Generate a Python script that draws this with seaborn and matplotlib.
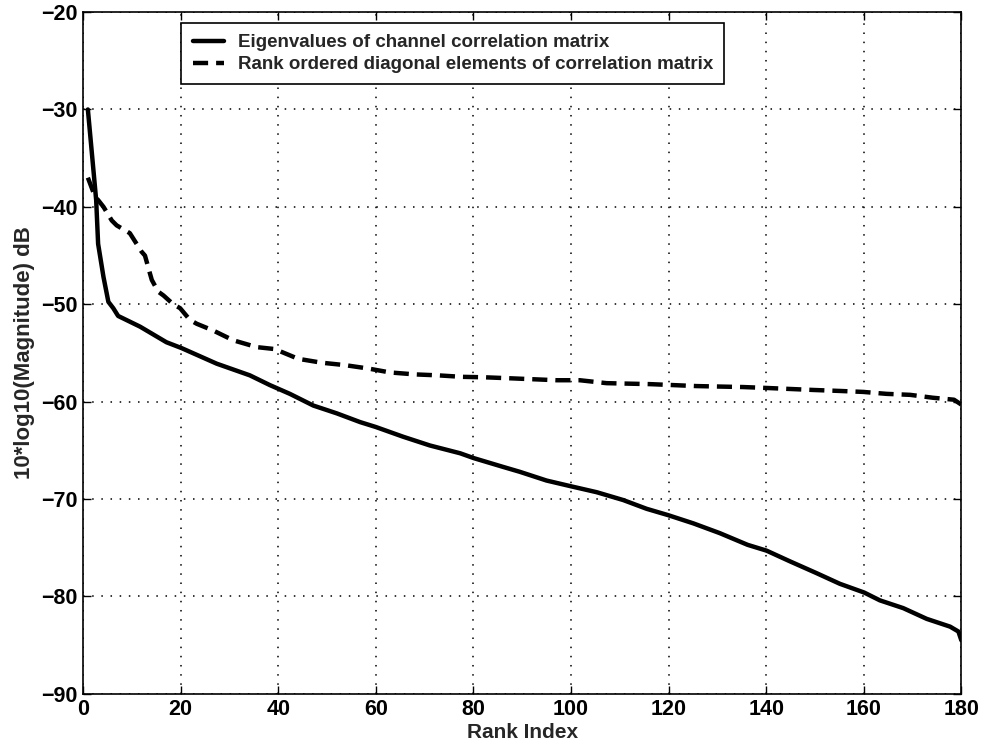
import pandas as pd
import matplotlib.pyplot as plt
import seaborn as sns

# rank index / dB values
eig_rank = [1, 2.7, 3.1, 4.2, 5.2, 6.2, 7.2, 11.7, 17.1, 20.2, 27.4, 34.2, 38.3, 42.4,
            47.2, 52, 56.8, 60, 65.6, 71.1, 77.3, 80.1, 86.1, 89.5, 95, 100.1, 105.3,
            110.7, 115.5, 119.9, 125.1, 130.5, 136.2, 140.1, 144.9, 150.3, 155.1, 160.1,
            163.3, 168.1, 172.9, 177.7, 179.4, 180]
eig_db = [-30, -39.3, -43.8, -47.2, -49.75, -50.4, -51.2, -52.3, -53.9, -54.5, -56.1,
          -57.3, -58.3, -59.2, -60.4, -61.2, -62.1, -62.6, -63.6, -64.5, -65.3, -65.8,
          -66.7, -67.2, -68.1, -68.7, -69.3, -70.1, -71.0, -71.65, -72.5, -73.5, -74.7,
          -75.3, -76.4, -77.6, -78.7, -79.6, -80.4, -81.2, -82.3, -83.1, -83.6, -84.5]

diag_rank = [1, 2.5, 3.1, 4.2, 5.9, 6.9, 9.6, 12.0, 12.7, 13.7, 14.1, 15.4, 16.5, 18.5,
             19.9, 21.9, 23.3, 26.7, 30.8, 35.6, 39.3, 44.1, 48.9, 53.7, 58.5, 62.9, 68,
             72.8, 77.6, 82.4, 87.5, 92.3, 97.1, 101.8, 107.3, 116.2, 121, 125.7, 135.3,
             140.4, 149.7, 155.1, 159.9, 164.7, 169.5, 174.2, 178.5, 180]
diag_db = [-37, -39.0, -39.3, -40.0, -41.4, -41.9, -42.7, -44.6, -45.0, -46.8, -47.5,
           -48.7, -49.1, -50.0, -50.4, -51.6, -52.0, -52.7, -53.7, -54.4, -54.6, -55.6,
           -56.0, -56.25, -56.6, -57.0, -57.2, -57.3, -57.45, -57.5, -57.6, -57.7, -57.8,
           -57.8, -58.1, -58.2, -58.3, -58.4, -58.5, -58.6, -58.8, -58.9, -59.0, -59.2,
           -59.3, -59.6, -59.8, -60.3]

eig = pd.DataFrame({"rank": eig_rank, "db": eig_db})
diag = pd.DataFrame({"rank": diag_rank, "db": diag_db})

sns.set_style("ticks")
plt.rcParams["font.family"] = ["Liberation Sans", "DejaVu Sans"]
plt.rcParams["font.weight"] = "bold"

fig = plt.figure(figsize=(9.88, 7.55), dpi=100)
ax = fig.add_axes([0.084, 0.081, 0.889, 0.903])

sns.lineplot(data=eig, x="rank", y="db", ax=ax, color="black", linewidth=3.2,
             label="Eigenvalues of channel correlation matrix", sort=False)
sns.lineplot(data=diag, x="rank", y="db", ax=ax, color="black", linewidth=3.2,
             linestyle=(0, (3.4, 1.8)), sort=False,
             label="Rank ordered diagonal elements of correlation matrix")

ax.set_xlim(0, 180)
ax.set_ylim(-90, -20)
ax.set_xticks(range(0, 181, 20))
ax.set_yticks(range(-90, -19, 10))
ax.grid(True, color="black", linestyle=(0, (1, 5)), linewidth=1.1)
ax.tick_params(direction="in", length=6, width=1, top=True, right=True,
               labelsize=15.5, pad=4, colors="black")
for lab in ax.get_xticklabels() + ax.get_yticklabels():
    lab.set_fontweight("bold")
for sp in ax.spines.values():
    sp.set_visible(True)
    sp.set_color("black")
    sp.set_linewidth(1.2)

ax.set_xlabel("Rank Index", fontsize=15, fontweight="bold", labelpad=2)
ax.set_ylabel("10*log10(Magnitude) dB", fontsize=16, fontweight="bold", labelpad=4)

leg = ax.legend(loc="upper left", bbox_to_anchor=(0.112, 0.984), borderaxespad=0,
                fancybox=False, framealpha=1, edgecolor="black", handlelength=1.7,
                prop={"size": 13.5, "weight": "bold"}, labelspacing=0.25,
                borderpad=0.6, handletextpad=0.7)
leg.get_frame().set_linewidth(1.2)

fig.savefig("out.png", dpi=100)
